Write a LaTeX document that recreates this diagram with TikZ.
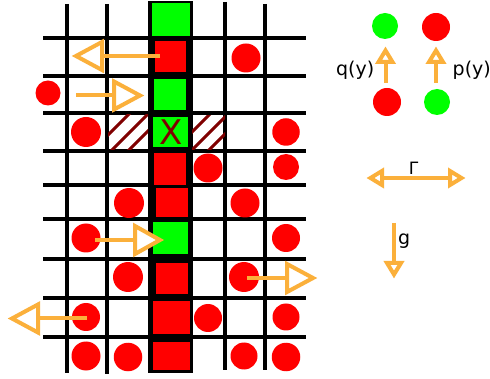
\documentclass[tikz,border=0pt]{standalone}
\usepackage{fontspec}
\setmainfont{DejaVu Sans}
\definecolor{org}{RGB}{251,176,59}
\definecolor{dred}{RGB}{128,0,0}
\definecolor{rd}{RGB}{255,0,0}
\definecolor{gr}{RGB}{0,255,0}
\begin{document}
\begin{tikzpicture}[x=1pt,y=-1pt,
  gridline/.style={line width=3.5pt, black},
  redc/.style={circle, fill=rd, draw=none, inner sep=0pt, minimum size=#1},
  redc/.default=28pt,
  grc/.style={circle, fill=gr, draw=none, inner sep=0pt, minimum size=#1},
  grc/.default=26pt,
  hatch/.style={line width=3pt, dred},
  shaft/.style={draw=org, line width=4pt},
  pics/ohead/.style n args={2}{code={
    \draw[org, line width=4pt, fill=white, line join=miter] (0,0) -- (-#1,#2) -- (-#1,-#2) -- cycle;}},
  lab/.style={inner sep=0pt, font=\fontsize{19}{19}\selectfont}
]
\useasboundingbox (0,0) rectangle (490,379);
\fill[white] (0,0) rectangle (490,379);

% grid
\foreach \yy in {38,76,113,151,185,219,259,298,337}
  \draw[gridline] (43,\yy) -- (306,\yy);
\draw[gridline] (67,4) -- (67,373);
\draw[gridline] (107,4) -- (107,374);
\draw[gridline] (225,2) -- (225,370);
\draw[gridline] (265,4) -- (265,370);

% column
\fill[black] (148,1) rectangle (193,373);
\fill[gr] (152,3) rectangle (190,36);
\fill[rd] (155,41) rectangle (186,72);
\fill[gr] (154,79) rectangle (186,110);
\fill[gr] (153,117) rectangle (188,147);
\fill[rd] (154,153) rectangle (186,185);
\fill[rd] (156,188) rectangle (188,217);
\fill[gr] (153,222) rectangle (188,254);
\fill[rd] (156,263) rectangle (188,294);
\fill[rd] (153,301) rectangle (190,334);
\fill[rd] (153,342) rectangle (190,370);

% hatching
\begin{scope}
  \clip (108,115) rectangle (148,150);
  \foreach \c in {243,262,279}
    \draw[hatch] (\c-160,160) -- (\c-100,100);
\end{scope}
\begin{scope}
  \clip (192,116) rectangle (225,150);
  \foreach \c in {324,342,359}
    \draw[hatch] (\c-160,160) -- (\c-100,100);
\end{scope}
\node[text=dred, inner sep=0pt, font=\fontsize{34}{34}\selectfont] (xmark) at (171,132.5) {X};

% red circles in grid
\node[redc=29pt] (c1) at (246,58) {};
\node[redc=25pt] (c2) at (48,93) {};
\node[redc=30pt] (c3) at (86,132) {};
\node[redc=27.5pt] (c4) at (286,132) {};
\node[redc=29pt] (c5) at (208,168) {};
\node[redc=26pt] (c6) at (286,167) {};
\node[redc=30pt] (c7) at (129,203) {};
\node[redc=29pt] (c8) at (245,203) {};
\node[redc=29pt] (c9) at (86,238) {};
\node[redc=28pt] (c10) at (286,238) {};
\node[redc=30pt] (c11) at (128,277) {};
\node[redc=30pt] (c12) at (244,277) {};
\node[redc=28pt] (c13) at (86,317) {};
\node[redc=28pt] (c14) at (208,318) {};
\node[redc=27pt] (c15) at (286,317) {};
\node[redc=29pt] (c16) at (86,356) {};
\node[redc=28.5pt] (c17) at (128,357) {};
\node[redc=27pt] (c18) at (244,356) {};
\node[redc=28.5pt] (c19) at (286,357) {};

% big arrows: start, base of head, tip vertex
\coordinate (a1s) at (160,56);   \coordinate (a1b) at (102,56);   \coordinate (a1t) at (76,56);
\coordinate (a2s) at (76,95.5);  \coordinate (a2b) at (114,95.5); \coordinate (a2t) at (140,95.5);
\coordinate (a3s) at (95,240);   \coordinate (a3b) at (135,240);  \coordinate (a3t) at (160,240);
\coordinate (a4s) at (247,278);  \coordinate (a4b) at (287,278);  \coordinate (a4t) at (313,278);
\coordinate (a5s) at (87,318.5); \coordinate (a5b) at (38,318.5); \coordinate (a5t) at (12,318.5);
\draw[shaft] (a1s) -- (a1b);
\draw[shaft] (a2s) -- (a2b);
\draw[shaft] (a3s) -- (a3b);
\draw[shaft] (a4s) -- (a4b);
\draw[shaft] (a5s) -- (a5b);
\pic[rotate=180] at (a1t) {ohead={26}{14}};
\pic at (a2t) {ohead={26}{14}};
\pic at (a3t) {ohead={25}{14}};
\pic at (a4t) {ohead={26}{14}};
\pic[rotate=180] at (a5t) {ohead={26}{14}};

% legend
\node[grc=26pt] (lg1) at (385,26) {};
\node[redc=28pt] (lr1) at (436,27) {};
\node[redc=28pt] (lr2) at (387,102) {};
\node[grc=26pt] (lg2) at (437,102) {};
\coordinate (q1) at (385.5,83); \coordinate (q2) at (385.5,62); \coordinate (q3) at (385.5,50.5);
\coordinate (p1) at (436,83);   \coordinate (p2) at (436,62);   \coordinate (p3) at (436,50.5);
\draw[shaft] (q1) -- (q2);
\draw[shaft] (p1) -- (p2);
\pic[rotate=90] at (q3) {ohead={11.5}{7}};
\pic[rotate=90] at (p3) {ohead={11.5}{7}};
\node[lab, anchor=base east] (qy) at (374.5,76) {q(y)};
\node[lab, anchor=base west] (py) at (452.5,76) {p(y)};

\coordinate (gl) at (382,178); \coordinate (gr) at (450,178);
\coordinate (glt) at (370.5,178); \coordinate (grt) at (461.5,178);
\draw[shaft] (gl) -- (gr);
\pic[rotate=180] at (glt) {ohead={11.5}{7}};
\pic at (grt) {ohead={11.5}{7}};
\node[inner sep=0pt, font=\fontsize{17}{17}\selectfont, anchor=base] (gam) at (413.5,174.5) {Γ};

\coordinate (g1) at (394,223); \coordinate (g2) at (394,263); \coordinate (g3) at (394,274.5);
\draw[shaft] (g1) -- (g2);
\pic[rotate=-90] at (g3) {ohead={11.5}{7}};
\node[lab, anchor=base west] (glab) at (398,245) {g};
\end{tikzpicture}
\end{document}
